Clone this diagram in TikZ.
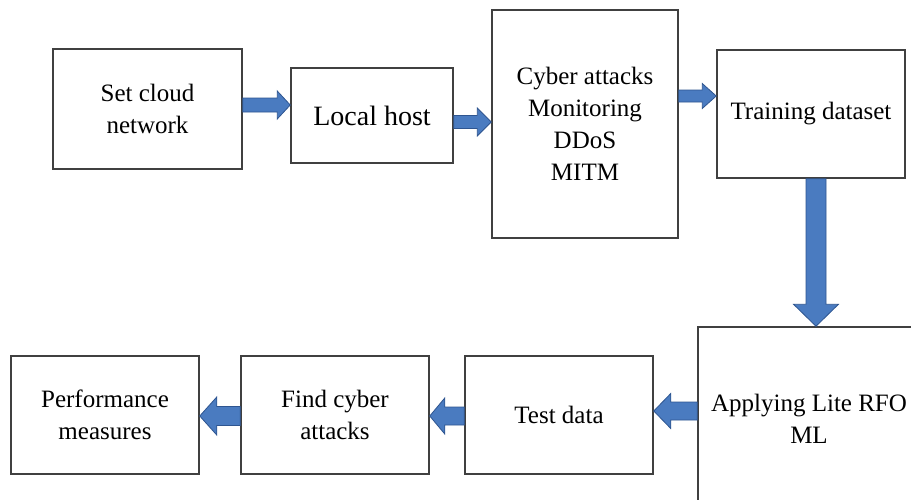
\documentclass[tikz,border=0pt]{standalone}
\usepackage{fontspec}
\setmainfont{Liberation Serif}
\usepackage{tikz}
\usetikzlibrary{calc}
\definecolor{boxgray}{HTML}{404040}
\definecolor{arrowblue}{HTML}{4A7BC0}
\definecolor{arrowedge}{HTML}{2E5590}
% block arrow: start, end, half shaft, half head, head length
\newcommand{\blockarrow}[5]{%
  \path (#1) coordinate (ba-s) (#2) coordinate (ba-e);
  \filldraw[draw=arrowedge,fill=arrowblue,line width=0.8pt,line join=miter]
    let \p1=(ba-s), \p2=(ba-e), \n1={atan2(\y2-\y1,\x2-\x1)}, \n2={veclen(\x2-\x1,\y2-\y1)} in
    [shift={(\p1)}, rotate=\n1] (0pt,-#3) -- (\n2-#5,-#3) -- (\n2-#5,-#4) -- (\n2,0pt)
    -- (\n2-#5,#4) -- (\n2-#5,#3) -- (0pt,#3) -- cycle;}

\begin{document}
\begin{tikzpicture}[x=1pt,y=-1pt,box/.style={draw=boxgray,line width=1.5pt,fill=white,align=center,inner sep=0pt,font=\fontsize{25}{32}\selectfont}]
  \useasboundingbox[fill=white] (0,0) rectangle (911,499);
  \clip (0,0) rectangle (911,499);
  \begin{scope}[every node/.style={box}]
    \node[minimum width=189pt,minimum height=120pt] (cloud) at (147.5,109) {Set cloud\\network};
    \node[minimum width=162pt,minimum height=95pt,font=\fontsize{28}{34}\selectfont] (host) at (372,115.5) {Local host};
    \node[minimum width=186pt,minimum height=228pt] (attack) at (585,124) {Cyber attacks\\Monitoring\\DDoS\\MITM};
    \node[minimum width=188pt,minimum height=128pt] (train) at (811,114) {Training dataset};
    \node[minimum width=222pt,minimum height=184pt] (rfo) at (809,419) {Applying Lite RFO\\ML};
    \node[minimum width=188pt,minimum height=118pt] (test) at (559,415) {Test data};
    \node[minimum width=188pt,minimum height=118pt] (find) at (335,415) {Find cyber\\attacks};
    \node[minimum width=188pt,minimum height=118pt] (perf) at (105,415) {Performance\\measures};
  \end{scope}
  \blockarrow{[yshift=4pt]cloud.east}{[yshift=10.5pt]host.west}{7pt}{14pt}{13pt}
  \blockarrow{[yshift=-6.5pt]host.east}{[yshift=2pt]attack.west}{6.5pt}{14pt}{14pt}
  \blockarrow{[yshift=28pt]attack.east}{[yshift=18pt]train.west}{6pt}{12.5pt}{14pt}
  \blockarrow{[xshift=5pt]train.south}{[xshift=7pt]rfo.north}{10pt}{22.5pt}{22pt}
  \blockarrow{[yshift=8pt]rfo.west}{[yshift=4pt]test.east}{9pt}{17.5pt}{17pt}
  \blockarrow{[yshift=-1pt]test.west}{[yshift=-1pt]find.east}{9pt}{18pt}{15pt}
  \blockarrow{[yshift=-1pt]find.west}{[yshift=-1pt]perf.east}{9.5pt}{19pt}{17pt}
\end{tikzpicture}
\end{document}
